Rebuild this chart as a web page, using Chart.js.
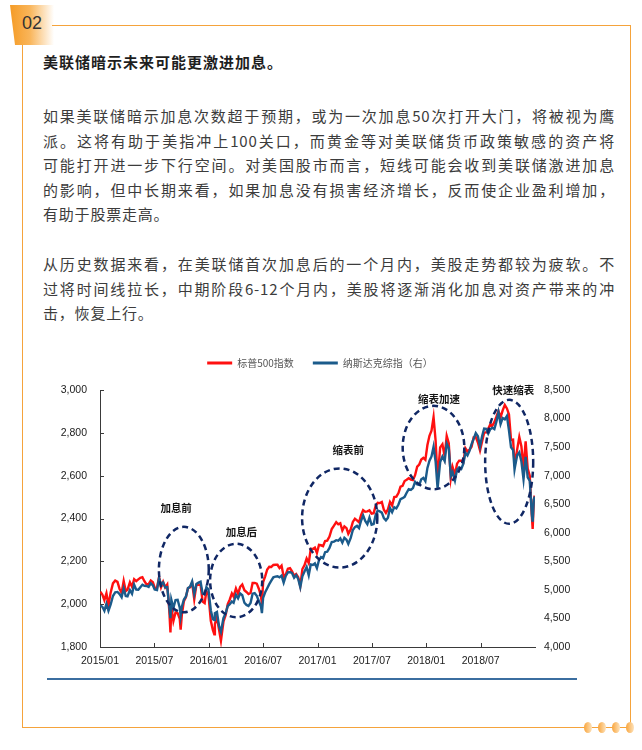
<!DOCTYPE html>
<html>
<head>
<meta charset="utf-8">
<script src="https://cdn.jsdelivr.net/npm/chart.js@4.4.1/dist/chart.umd.min.js"></script>
<style>
  body { margin: 0; width: 642px; height: 750px; background: #fff; position: relative; overflow: hidden;
         font-family: 'Noto Sans CJK SC', sans-serif; }
  .abs { position: absolute; }
  .badge { left: 10px; top: 5px; width: 44px; height: 40px;
           background: linear-gradient(to right, #f59b25 0%, #f9b55a 45%, rgba(255,255,255,0) 100%);
           clip-path: polygon(0 0, 100% 0, 100% 100%, 5px 100%); }
  .badge span { position: absolute; left: 12px; top: 8px; font: 18px 'Liberation Sans', Arial, sans-serif; color: #333; }
  .hl { background: #f5a33b; height: 1px; }
  .vl { background: #f5a33b; width: 1px; }
  .dot { width: 8px; height: 11px; border-radius: 50%; top: 722px;
         background: linear-gradient(to right, #f9a53c, #fde3bd); }
  .title { left: 43px; top: 50px; font-size: 15px; font-weight: bold; color: #1e1e1e; letter-spacing: 1px; line-height: 24px; }
  .para { left: 43px; width: 572px; font-size: 15px; color: #3c3c3c; letter-spacing: 0.8px; }
  .para div { height: 24.5px; line-height: 24.5px; white-space: nowrap; }
  .para div.j { text-align: justify; text-align-last: justify; }
  #wrap { left: 40px; top: 339px; width: 560px; height: 331px; }
  .rule { left: 47px; top: 678px; width: 530px; height: 2px; background: #3b6ea0; }
</style>
</head>
<body>
<div class="abs badge"><span>02</span></div>
<div class="abs hl" style="left:52px; top:25px; width:579px;"></div>
<div class="abs vl" style="left:22px; top:45px; height:682px;"></div>
<div class="abs vl" style="left:630px; top:25px; height:702px;"></div>
<div class="abs hl" style="left:22px; top:727px; width:609px;"></div>
<div class="abs dot" style="left:584px;"></div>
<div class="abs dot" style="left:598px;"></div>
<div class="abs dot" style="left:612px;"></div>
<div class="abs dot" style="left:626px;"></div>

<div class="abs title">美联储暗示未来可能更激进加息。</div>

<div class="abs para" style="top:104px;">
  <div class="j">如果美联储暗示加息次数超于预期，或为一次加息50次打开大门，将被视为鹰</div>
  <div class="j">派。这将有助于美指冲上100关口，而黄金等对美联储货币政策敏感的资产将</div>
  <div class="j">可能打开进一步下行空间。对美国股市而言，短线可能会收到美联储激进加息</div>
  <div class="j">的影响，但中长期来看，如果加息没有损害经济增长，反而使企业盈利增加，</div>
  <div>有助于股票走高。</div>
</div>
<div class="abs para" style="top:252px;">
  <div class="j">从历史数据来看，在美联储首次加息后的一个月内，美股走势都较为疲软。不</div>
  <div class="j">过将时间线拉长，中期阶段6-12个月内，美股将逐渐消化加息对资产带来的冲</div>
  <div>击，恢复上行。</div>
</div>

<div class="abs" id="wrap"><canvas id="chart"></canvas></div>
<div class="abs rule"></div>

<script>
// weekly closes (plus a few sharp daily lows)
const dates = [
  '2015-01-02','2015-01-09','2015-01-16','2015-01-23','2015-01-30','2015-02-06','2015-02-13','2015-02-20','2015-02-27',
  '2015-03-06','2015-03-13','2015-03-20','2015-03-27','2015-04-02','2015-04-10','2015-04-17','2015-04-24','2015-05-01',
  '2015-05-08','2015-05-15','2015-05-22','2015-05-29','2015-06-05','2015-06-12','2015-06-19','2015-06-26','2015-07-02',
  '2015-07-10','2015-07-17','2015-07-24','2015-07-31','2015-08-07','2015-08-14','2015-08-21','2015-08-25','2015-08-28',
  '2015-09-04','2015-09-11','2015-09-18','2015-09-25','2015-09-28','2015-10-02','2015-10-09','2015-10-16','2015-10-23',
  '2015-10-30','2015-11-06','2015-11-13','2015-11-20','2015-11-27','2015-12-04','2015-12-11','2015-12-18','2015-12-24',
  '2015-12-31',
  '2016-01-08','2016-01-15','2016-01-20','2016-01-22','2016-01-29','2016-02-05','2016-02-11','2016-02-19','2016-02-26',
  '2016-03-04','2016-03-11','2016-03-18','2016-03-24','2016-04-01','2016-04-08','2016-04-15','2016-04-22','2016-04-29',
  '2016-05-06','2016-05-13','2016-05-20','2016-05-27','2016-06-03','2016-06-10','2016-06-17','2016-06-24','2016-06-27',
  '2016-07-01','2016-07-08','2016-07-15','2016-07-22','2016-07-29','2016-08-05','2016-08-12','2016-08-19','2016-08-26',
  '2016-09-02','2016-09-09','2016-09-16','2016-09-23','2016-09-30','2016-10-07','2016-10-14','2016-10-21','2016-10-28',
  '2016-11-04','2016-11-11','2016-11-18','2016-11-25','2016-12-02','2016-12-09','2016-12-16','2016-12-23','2016-12-30',
  '2017-01-06','2017-01-13','2017-01-20','2017-01-27','2017-02-03','2017-02-10','2017-02-17','2017-02-24','2017-03-03',
  '2017-03-10','2017-03-17','2017-03-24','2017-03-31','2017-04-07','2017-04-13','2017-04-21','2017-04-28','2017-05-05',
  '2017-05-12','2017-05-19','2017-05-26','2017-06-02','2017-06-09','2017-06-16','2017-06-23','2017-06-30','2017-07-07',
  '2017-07-14','2017-07-21','2017-07-28','2017-08-04','2017-08-11','2017-08-18','2017-08-25','2017-09-01','2017-09-08',
  '2017-09-15','2017-09-22','2017-09-29','2017-10-06','2017-10-13','2017-10-20','2017-10-27','2017-11-03','2017-11-10',
  '2017-11-17','2017-11-24','2017-12-01','2017-12-08','2017-12-15','2017-12-22','2017-12-29',
  '2018-01-05','2018-01-12','2018-01-19','2018-01-26','2018-02-02','2018-02-08','2018-02-16','2018-02-23','2018-03-02',
  '2018-03-09','2018-03-16','2018-03-23','2018-03-29','2018-04-06','2018-04-13','2018-04-20','2018-04-27','2018-05-04',
  '2018-05-11','2018-05-18','2018-05-25','2018-06-01','2018-06-08','2018-06-15','2018-06-22','2018-06-29','2018-07-06',
  '2018-07-13','2018-07-20','2018-07-27','2018-08-03','2018-08-10','2018-08-17','2018-08-24','2018-08-31','2018-09-07',
  '2018-09-14','2018-09-21','2018-09-28','2018-10-05','2018-10-12','2018-10-19','2018-10-24','2018-10-26','2018-11-02',
  '2018-11-09','2018-11-16','2018-11-23','2018-11-30','2018-12-07','2018-12-14','2018-12-21','2018-12-24','2018-12-28',
  '2018-12-31'
];

const sp500 = [
  2058,2045,2019,2051,1995,2055,2097,2110,2104,
  2071,2053,2108,2061,2067,2102,2081,2117,2108,
  2116,2123,2126,2107,2092,2094,2110,2102,2077,
  2076,2127,2079,2104,2078,2092,1971,1868,1989,
  1921,1961,1958,1931,1881,1951,2014,2033,2075,
  2079,2099,2023,2089,2090,2091,2012,2005,2061,
  2044,
  1922,1880,1859,1907,1940,1880,1829,1918,1948,
  2000,2022,2050,2035,2073,2048,2081,2092,2065,
  2057,2047,2052,2099,2099,2096,2071,2037,2001,
  2103,2130,2162,2175,2174,2183,2184,2184,2169,
  2180,2128,2139,2165,2168,2153,2133,2141,2126,
  2085,2164,2182,2213,2192,2259,2258,2264,2239,
  2277,2275,2271,2295,2297,2316,2351,2367,2383,
  2373,2378,2344,2363,2355,2329,2349,2384,2399,
  2391,2382,2416,2439,2432,2433,2438,2423,2425,
  2459,2473,2472,2477,2441,2426,2443,2477,2461,
  2500,2502,2519,2549,2553,2575,2581,2588,2582,
  2579,2602,2642,2652,2675,2683,2674,
  2743,2786,2810,2873,2762,2581,2732,2747,2691,
  2786,2752,2588,2641,2604,2656,2670,2670,2663,
  2728,2713,2721,2735,2779,2780,2755,2718,2760,
  2801,2802,2819,2840,2833,2850,2875,2902,2872,
  2905,2930,2914,2886,2767,2768,2656,2659,2723,
  2781,2736,2633,2760,2633,2600,2417,2351,2486,
  2507
];

const nasdaq = [
  4726,4704,4634,4758,4635,4744,4893,4956,4964,
  4927,4871,5026,4892,4886,4996,4932,5092,5005,
  5003,5048,5090,5070,5068,5052,5117,5080,5009,
  4998,5210,5088,5128,5044,5048,4706,4506,4828,
  4683,4822,4827,4687,4543,4707,4830,4886,5032,
  5054,5147,4927,5105,5127,5142,4934,4923,5048,
  5007,
  4644,4488,4472,4592,4614,4364,4266,4504,4590,
  4717,4748,4796,4773,4915,4851,4938,4906,4775,
  4737,4718,4770,4933,4943,4895,4801,4708,4594,
  4863,4957,5030,5100,5162,5221,5233,5238,5219,
  5250,5126,5245,5306,5312,5292,5214,5258,5190,
  5046,5237,5322,5399,5255,5445,5437,5463,5383,
  5521,5574,5555,5660,5667,5734,5838,5845,5870,
  5861,5901,5828,5912,5878,5805,5910,6048,6100,
  6121,6083,6210,6306,6208,6151,6265,6140,6153,
  6312,6388,6374,6352,6257,6217,6265,6435,6360,
  6448,6426,6496,6590,6606,6629,6701,6764,6751,
  6783,6890,6848,6840,6937,6960,6903,
  7136,7261,7336,7505,7241,6777,7239,7337,7257,
  7560,7482,6993,7063,6915,7107,7146,7120,7210,
  7403,7354,7434,7554,7646,7746,7692,7510,7689,
  7826,7820,7737,7812,7839,7816,7946,8110,7903,
  8010,7987,8046,7788,7497,7449,7108,7167,7357,
  7407,7248,6939,7331,6969,6911,6333,6193,6585,
  6635
];

const xTickLabels = ['2015/01', '2015/07', '2016/01', '2016/07', '2017/01', '2017/07', '2018/01', '2018/07'];

// dashed circles: month range (from 2015/01) and S&P range they enclose
const zoneNames = ['加息前', '加息后', '缩表前', '缩表加速', '快速缩表'];
const zoneMonths = [[6.5, 12.0], [12.15, 17.9], [22.3, 30.6], [33.4, 40.2], [42.5, 47.8]];
const zoneValues = [[1962, 2361], [1939, 2282], [2171, 2634], [2537, 2926], [2375, 2954]];
const zoneLabelAt = [[8.4, 2449], [15.6, 2338], [27.4, 2718], [37.4, 2958], [45.6, 3000]];

function toMonth(s) {
    const [yy, mm, dd] = s.split('-').map(Number);
    const days = new Date(yy, mm, 0).getDate();
    return (yy - 2015) * 12 + (mm - 1) + (dd - 1) / days;
}

const AXIS = '#3a3a3a';
const RED = '#ff1010';
const BLUE = '#1b5b8b';

// leave a gap between the legend and the plot
const legendGap = {
    id: 'legendGap',
    afterInit(chart) {
        const fit = chart.legend.fit;
        chart.legend.fit = function () {
            fit.call(this);
            this.height += 12;
        };
    }
};

const overlay = {
    id: 'overlay',
    afterDatasetsDraw(chart) {
        const { ctx, chartArea, scales } = chart;
        const x = scales.x, y = scales.y;
        ctx.save();

        // inward ticks
        ctx.strokeStyle = AXIS;
        ctx.lineWidth = 1;
        y.ticks.forEach((t) => {
            const py = Math.round(y.getPixelForValue(t.value)) + 0.5;
            ctx.beginPath();
            ctx.moveTo(chartArea.left, py);
            ctx.lineTo(chartArea.left + 4, py);
            ctx.stroke();
        });
        x.ticks.forEach((t) => {
            if (t.value >= 48) return;
            const px = Math.round(x.getPixelForValue(t.value)) + 0.5;
            ctx.beginPath();
            ctx.moveTo(px, chartArea.bottom);
            ctx.lineTo(px, chartArea.bottom - 4);
            ctx.stroke();
        });

        // dashed ellipses
        ctx.strokeStyle = '#102764';
        ctx.lineWidth = 2.5;
        ctx.setLineDash([6, 4]);
        zoneNames.forEach((name, i) => {
            const l = x.getPixelForValue(zoneMonths[i][0]);
            const r = x.getPixelForValue(zoneMonths[i][1]);
            const b = y.getPixelForValue(zoneValues[i][0]);
            const t = y.getPixelForValue(zoneValues[i][1]);
            ctx.beginPath();
            ctx.ellipse((l + r) / 2, (t + b) / 2, (r - l) / 2, (b - t) / 2, 0, 0, Math.PI * 2);
            ctx.stroke();
        });
        ctx.setLineDash([]);

        ctx.fillStyle = '#151515';
        ctx.font = "600 10.5px 'Noto Sans CJK SC'";
        ctx.textAlign = 'center';
        ctx.textBaseline = 'middle';
        zoneNames.forEach((name, i) => {
            ctx.fillText(name, x.getPixelForValue(zoneLabelAt[i][0]), y.getPixelForValue(zoneLabelAt[i][1]));
        });
        ctx.restore();
    }
};

Chart.defaults.font.family = "'Liberation Sans', Arial, sans-serif";
Chart.defaults.font.size = 10.5;
Chart.defaults.color = '#1a1a1a';

new Chart(document.getElementById('chart'), {
    type: 'line',
    data: {
        datasets: [
            {
                label: '标普500指数',
                data: dates.map((d, i) => ({ x: toMonth(d), y: sp500[i] })),
                borderColor: RED,
                backgroundColor: RED,
                borderWidth: 2.4,
                pointRadius: 0,
                yAxisID: 'y',
                order: 1,
            },
            {
                label: '纳斯达克综指（右）',
                data: dates.map((d, i) => ({ x: toMonth(d), y: nasdaq[i] })),
                borderColor: BLUE,
                backgroundColor: BLUE,
                borderWidth: 2.4,
                pointRadius: 0,
                yAxisID: 'y2',
                order: 0,
            },
        ],
    },
    options: {
        responsive: true,
        maintainAspectRatio: false,
        animation: false,
        layout: { padding: 0 },
        plugins: {
            tooltip: { enabled: false },
            legend: {
                position: 'top',
                labels: {
                    boxWidth: 25,
                    boxHeight: 3,
                    padding: 19,
                    color: '#555',
                    font: { family: "'Noto Sans CJK SC'", size: 10 },
                    sort: (a, b) => a.datasetIndex - b.datasetIndex,
                    generateLabels: (chart) =>
                        Chart.defaults.plugins.legend.labels.generateLabels(chart).map((item) => ({ ...item, lineWidth: 0 })),
                },
            },
        },
        scales: {
            x: {
                type: 'linear',
                min: 0,
                max: 48,
                grid: { display: false, drawTicks: false },
                border: { display: true, color: AXIS, width: 1 },
                ticks: {
                    stepSize: 6,
                    autoSkip: false,
                    maxRotation: 0,
                    padding: 8,
                    callback: (value) => xTickLabels[value / 6] ?? '',
                },
                afterFit: (scale) => { scale.height = 23; },
            },
            y: {
                position: 'left',
                min: 1800,
                max: 3000,
                grid: { display: false, drawTicks: false },
                border: { display: true, color: AXIS, width: 1 },
                ticks: {
                    stepSize: 200,
                    padding: 13,
                    callback: (value) => value.toLocaleString('en-US'),
                },
                afterFit: (scale) => { scale.width = 60; },
            },
            y2: {
                position: 'right',
                min: 4000,
                max: 8500,
                grid: { display: false, drawTicks: false },
                border: { display: false },
                ticks: {
                    stepSize: 500,
                    padding: 9,
                    callback: (value) => value.toLocaleString('en-US'),
                },
                afterFit: (scale) => { scale.width = 65; },
            },
        },
    },
    plugins: [legendGap, overlay],
});
</script>
</body>
</html>
